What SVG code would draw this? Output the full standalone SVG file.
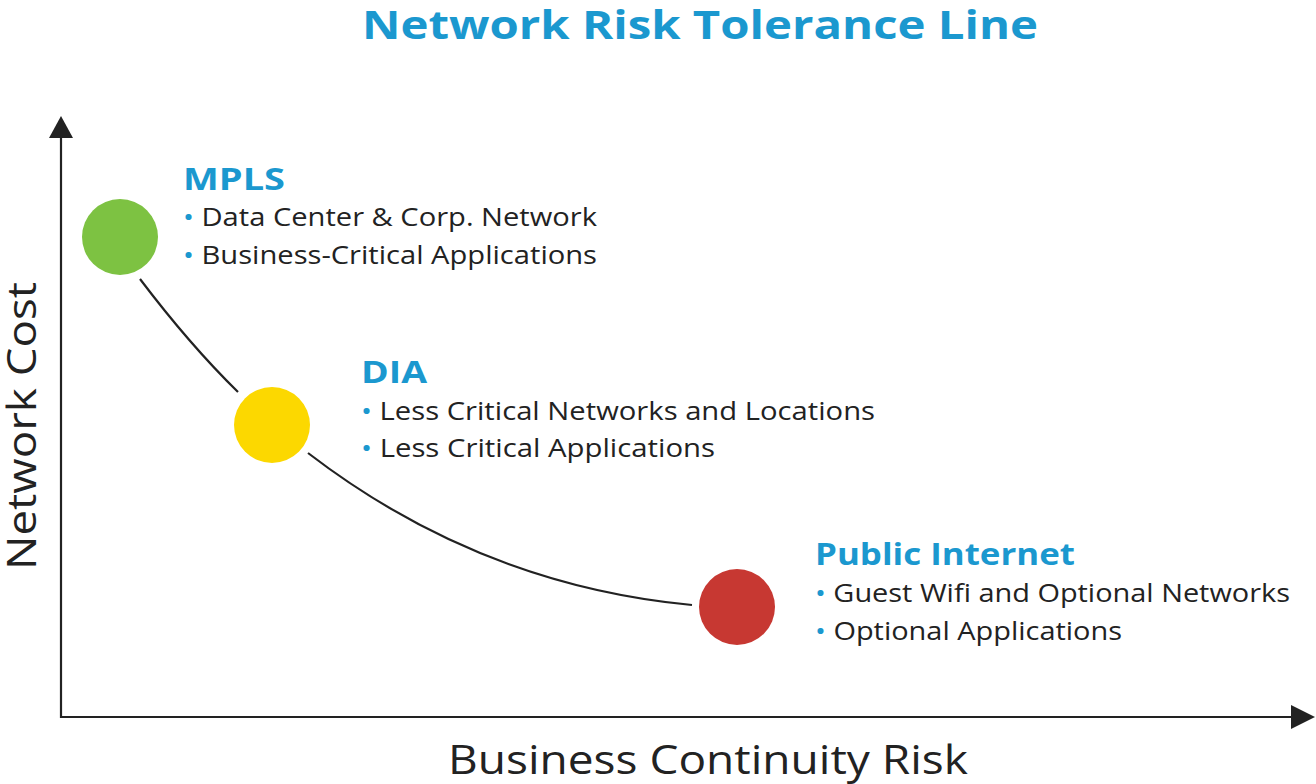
<svg xmlns="http://www.w3.org/2000/svg" width="1316" height="784" viewBox="0 0 1316 784">
<style>
.h{font-family:"Open Sans","Liberation Sans",sans-serif;font-weight:bold;fill:#1b98cf;font-size:31px}
.t{font-family:"Open Sans","Liberation Sans",sans-serif;fill:#222;font-size:25px}
.b{fill:#1b98cf}
.ax{font-family:"Open Sans","Liberation Sans",sans-serif;fill:#222;font-size:40px}
</style>
<rect width="1316" height="784" fill="#fff"/>
<text x="362" y="39" class="h" style="font-size:40px" textLength="676" lengthAdjust="spacingAndGlyphs">Network Risk Tolerance Line</text>
<g id="connectors" fill="none" stroke="#222" stroke-width="2.2">
<path d="M61 135V717H1292"/>
<path d="M140 279Q190 345 238 392"/>
<path d="M308 453Q480 585 692 605"/>
</g>
<polygon points="61,116 49,138 73,138" fill="#222"/>
<polygon points="1315,717 1291,705 1291,729" fill="#222"/>
<g id="mpls">
<circle cx="120" cy="237" r="38" fill="#7dc242"/>
<text x="183" y="190" class="h" textLength="102" lengthAdjust="spacingAndGlyphs">MPLS</text>
<text x="183" y="226" class="t" textLength="414" lengthAdjust="spacingAndGlyphs"><tspan class="b">•</tspan> Data Center &amp; Corp. Network</text>
<text x="183" y="264" class="t" textLength="414" lengthAdjust="spacingAndGlyphs"><tspan class="b">•</tspan> Business-Critical Applications</text>
</g>
<g id="dia">
<circle cx="272" cy="425" r="38" fill="#fcd800"/>
<text x="361" y="383" class="h" textLength="66" lengthAdjust="spacingAndGlyphs">DIA</text>
<text x="361" y="420" class="t" textLength="514" lengthAdjust="spacingAndGlyphs"><tspan class="b">•</tspan> Less Critical Networks and Locations</text>
<text x="361" y="457" class="t" textLength="354" lengthAdjust="spacingAndGlyphs"><tspan class="b">•</tspan> Less Critical Applications</text>
</g>
<g id="public">
<circle cx="737" cy="607" r="38" fill="#c73832"/>
<text x="815" y="565" class="h" textLength="260" lengthAdjust="spacingAndGlyphs">Public Internet</text>
<text x="815" y="602" class="t" textLength="475" lengthAdjust="spacingAndGlyphs"><tspan class="b">•</tspan> Guest Wifi and Optional Networks</text>
<text x="815" y="640" class="t" textLength="307" lengthAdjust="spacingAndGlyphs"><tspan class="b">•</tspan> Optional Applications</text>
</g>
<text x="448" y="774" class="ax" textLength="520" lengthAdjust="spacingAndGlyphs">Business Continuity Risk</text>
<text transform="translate(36,570) rotate(-90)" class="ax" textLength="288" lengthAdjust="spacingAndGlyphs">Network Cost</text>
</svg>
